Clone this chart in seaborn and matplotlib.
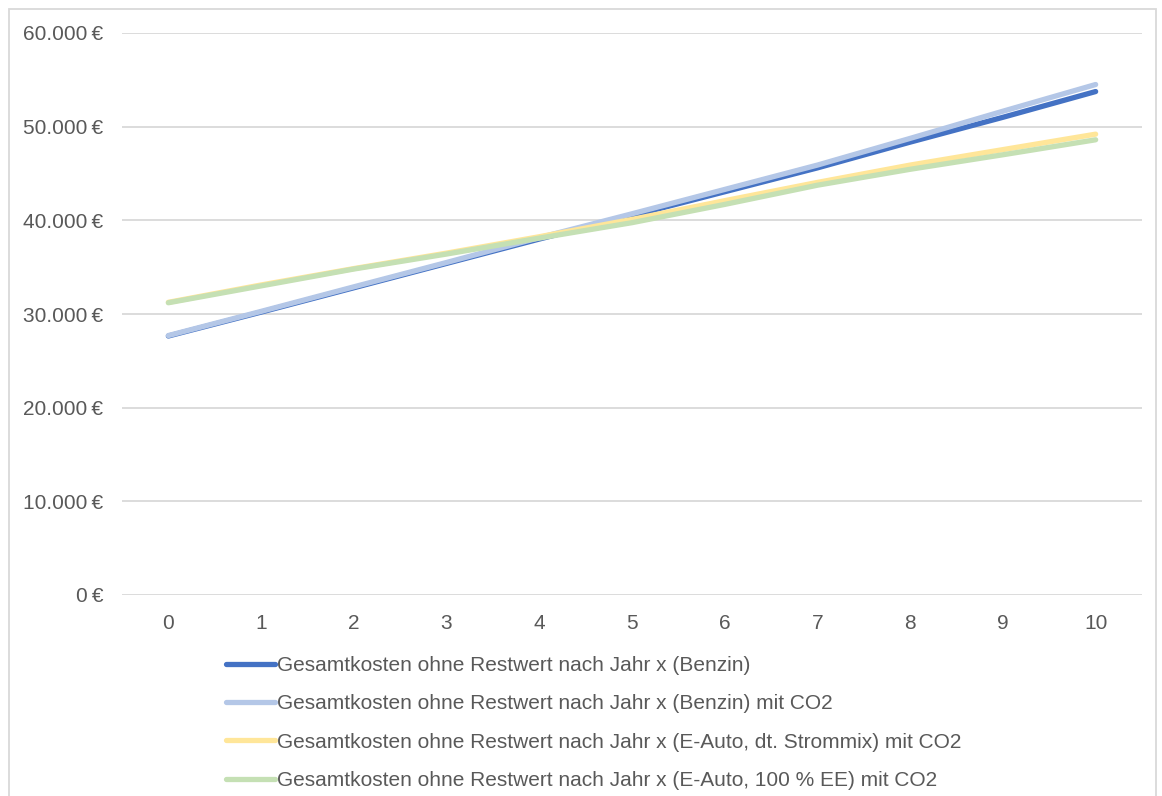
import numpy as np
import pandas as pd
import matplotlib
matplotlib.use("Agg")
import matplotlib.pyplot as plt
import seaborn as sns
from matplotlib.patches import Rectangle
from matplotlib.ticker import FuncFormatter

years = [0, 1, 2, 3, 4, 5, 6, 7, 8, 9, 10]
benzin = [27650, 30200, 32800, 35400, 38000, 40500, 43050, 45600, 48350, 51000, 53750]
benzin_co2 = [27700, 30280, 32900, 35500, 38150, 40700, 43300, 45900, 48750, 51650, 54500]
eauto_mix_co2 = [31250, 33100, 34850, 36500, 38250, 40100, 42100, 44050, 45900, 47550, 49200]
eauto_ee_co2 = [31200, 33000, 34800, 36400, 38100, 39750, 41700, 43750, 45450, 47000, 48600]

series_names = [
    "Gesamtkosten ohne Restwert nach Jahr x (Benzin)",
    "Gesamtkosten ohne Restwert nach Jahr x (Benzin) mit CO2",
    "Gesamtkosten ohne Restwert nach Jahr x (E-Auto, dt. Strommix) mit CO2",
    "Gesamtkosten ohne Restwert nach Jahr x (E-Auto, 100 % EE) mit CO2",
]
series_values = [benzin, benzin_co2, eauto_mix_co2, eauto_ee_co2]
colors = ["#4472C4", "#B4C7E7", "#FFE699", "#C5E0B4"]
y_ticks = [0, 10000, 20000, 30000, 40000, 50000, 60000]

rows = []
for name, vals in zip(series_names, series_values):
    for x, v in zip(years, vals):
        rows.append({"Jahr": x, "Kosten": v, "Serie": name})
df = pd.DataFrame(rows)

sns.set_theme(style="white")
plt.rcParams["font.family"] = ["Liberation Sans", "DejaVu Sans"]

fig = plt.figure(figsize=(11.62, 7.96), dpi=100)
ax = fig.add_axes([122 / 1162, 1 - 595 / 796, (1142 - 122) / 1162, (595 - 33) / 796])

sns.lineplot(data=df, x="Jahr", y="Kosten", hue="Serie", hue_order=series_names,
             palette=colors, linewidth=3.8, ax=ax, legend=True,
             solid_capstyle="round", sort=False)

ax.set_xlim(-0.5, 10.5)
ax.set_ylim(0, 60000)
ax.set_yticks(y_ticks)
ax.set_xticks(years)
ax.yaxis.set_major_formatter(FuncFormatter(lambda v, p: f"{int(v):,}".replace(",", ".") + "\u2009€"))
ax.grid(axis="y", color="#D9D9D9", linewidth=1.3)
ax.set_axisbelow(True)
for s in ax.spines.values():
    s.set_visible(False)
ax.set_xlabel("")
ax.set_ylabel("")
ax.tick_params(axis="both", length=0, labelsize=15, labelcolor="#595959")
ax.tick_params(axis="y", pad=13.5)
ax.tick_params(axis="x", pad=14)

handles, labels = ax.get_legend_handles_labels()
for h in handles:
    h.set_linewidth(3.8)
ax.legend(handles, labels, loc="upper left", bbox_to_anchor=(226 / 1162, 1 - 656 / 796),
          bbox_transform=fig.transFigure, frameon=False, fontsize=15,
          labelcolor="#595959", handlelength=2.35, handletextpad=0.1,
          labelspacing=0.93, borderaxespad=0, borderpad=0)

fig.patches.append(Rectangle((9 / 1162, -0.02), (1156 - 9) / 1162, 1.02 - 9 / 796,
                             transform=fig.transFigure, fill=False,
                             edgecolor="#D9D9D9", linewidth=1.3))

fig.savefig("out.png", dpi=100)
